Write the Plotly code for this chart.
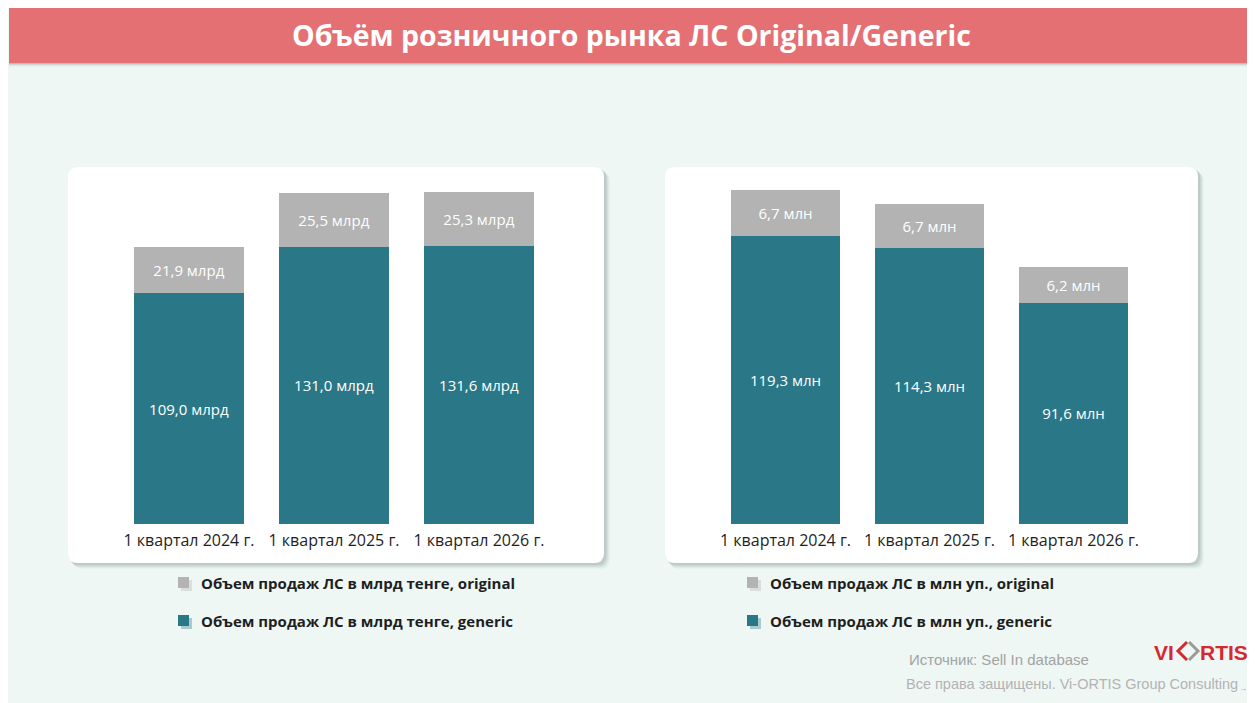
import plotly.graph_objects as go

# the page puts the figure 8px in from the top-left corner, so the figure is
# drawn 8px smaller and every position below is given in window pixels
OFF = 8
W, H = 1255 - OFF, 703 - OFF

quarters = ["1 квартал 2024 г.", "1 квартал 2025 г.", "1 квартал 2026 г."]

# left chart: sales in bn tenge
tenge_generic = [109.0, 131.0, 131.6]
tenge_original = [21.9, 25.5, 25.3]

# right chart: sales in mln packs
units_generic = [119.3, 114.3, 91.6]
units_original = [6.7, 6.7, 6.2]
# the source draws the grey segments taller than their labels say; these are the drawn heights
units_original_drawn = [19.0, 18.2, 14.8]

TEAL = "#2A7887"
GREY = "#B3B3B3"
BG = "#EEF7F4"
RED_BANNER = "#E57074"
LOGO_RED = "#D7282F"
FONT = "Open Sans"


def fx(v):
    return (v - OFF) / W


def fy(v):
    return 1 - (v - OFF) / H


def rounded(x0, y0, x1, y1, r):
    return (f"M{fx(x0 + r)},{fy(y0)} L{fx(x1 - r)},{fy(y0)} Q{fx(x1)},{fy(y0)} {fx(x1)},{fy(y0 + r)} "
            f"L{fx(x1)},{fy(y1 - r)} Q{fx(x1)},{fy(y1)} {fx(x1 - r)},{fy(y1)} L{fx(x0 + r)},{fy(y1)} "
            f"Q{fx(x0)},{fy(y1)} {fx(x0)},{fy(y1 - r)} L{fx(x0)},{fy(y0 + r)} Q{fx(x0)},{fy(y0)} {fx(x0 + r)},{fy(y0)} Z")


def lab(vals, unit):
    return [f"{v:.1f}".replace(".", ",") + " " + unit for v in vals]


fig = go.Figure()

bar_font = dict(color="white", size=15, family=FONT)
common = dict(textposition="inside", insidetextanchor="middle", textangle=0,
              textfont=bar_font, showlegend=False, marker_line_width=0, hoverinfo="skip")

fig.add_trace(go.Bar(x=quarters, y=tenge_generic, marker_color=TEAL,
                     text=lab(tenge_generic, "млрд"), xaxis="x", yaxis="y", **common))
fig.add_trace(go.Bar(x=quarters, y=tenge_original, marker_color=GREY,
                     text=lab(tenge_original, "млрд"), xaxis="x", yaxis="y", **common))
fig.add_trace(go.Bar(x=quarters, y=units_generic, marker_color=TEAL,
                     text=lab(units_generic, "млн"), xaxis="x2", yaxis="y2", **common))
fig.add_trace(go.Bar(x=quarters, y=units_original_drawn, marker_color=GREY,
                     text=lab(units_original, "млн"), xaxis="x2", yaxis="y2", **common))

shapes = []
# banner shadow + banner
for i, a in enumerate([0.10, 0.07, 0.04, 0.02]):
    shapes.append(dict(type="rect", xref="paper", yref="paper", x0=fx(9), x1=fx(1255),
                       y0=fy(63 + i + 1), y1=fy(62), fillcolor=f"rgba(0,0,0,{a})", line_width=0, layer="below"))
shapes.append(dict(type="rect", xref="paper", yref="paper", x0=fx(9), x1=fx(1255), y0=fy(63), y1=fy(2),
                   fillcolor=RED_BANNER, line_width=0, layer="below"))

# white cards with soft shadow
for x0, x1 in [(68, 604), (665, 1198)]:
    for d, a in [(6, 0.03), (5, 0.04), (4, 0.05), (3, 0.06), (2, 0.07)]:
        shapes.append(dict(type="path", xref="paper", yref="paper", path=rounded(x0 + d - 1, 167 + d - 1, x1 + d, 563 + d, 10),
                           fillcolor=f"rgba(40,60,60,{a})", line_width=0, layer="below"))
    shapes.append(dict(type="path", xref="paper", yref="paper", path=rounded(x0, 167, x1, 563, 10),
                       fillcolor="white", line_width=0, layer="below"))

annotations = []
legend_rows = [
    (184, 583, GREY, "Объем продаж ЛС в млрд тенге, original"),
    (184, 621, TEAL, "Объем продаж ЛС в млрд тенге, generic"),
    (753, 583, GREY, "Объем продаж ЛС в млн уп., original"),
    (753, 621, TEAL, "Объем продаж ЛС в млн уп., generic"),
]
for cx, cy, col, txt in legend_rows:
    shapes.append(dict(type="rect", xref="paper", yref="paper", x0=fx(cx - 3), x1=fx(cx + 8),
                       y0=fy(cy + 8), y1=fy(cy - 3), fillcolor=col, opacity=0.35, line_width=0))
    shapes.append(dict(type="rect", xref="paper", yref="paper", x0=fx(cx - 6), x1=fx(cx + 5),
                       y0=fy(cy + 5), y1=fy(cy - 6), fillcolor=col, line_width=0))
    annotations.append(dict(text=f"<b>{txt}</b>", x=fx(cx + 15), y=fy(cy), xref="paper", yref="paper",
                            xanchor="left", yanchor="middle", showarrow=False,
                            font=dict(size=15, color="#1E1E1E", family=FONT)))

annotations.append(dict(text="<b>Объём розничного рынка ЛС Original/Generic</b>", x=fx(631), y=fy(35),
                        xref="paper", yref="paper", xanchor="center", yanchor="middle", showarrow=False,
                        font=dict(size=28.5, color="white", family=FONT)))
annotations.append(dict(text="Источник: Sell In database", x=fx(907), y=fy(659), xref="paper", yref="paper",
                        xanchor="left", yanchor="middle", showarrow=False,
                        font=dict(size=15, color="#A3A3A3", family="Liberation Sans")))
annotations.append(dict(text="Все права защищены. Vi-ORTIS Group Consulting", x=fx(904), y=fy(684),
                        xref="paper", yref="paper", xanchor="left", yanchor="middle", showarrow=False,
                        font=dict(size=14.5, color="#B3B3B3", family="Liberation Sans")))
annotations.append(dict(text="→", x=fx(1249), y=fy(695), xref="paper", yref="paper", showarrow=False,
                        font=dict(size=8, color="#999999")))

# logo
annotations.append(dict(text="<b>VI</b>", x=fx(1176), y=fy(652), xref="paper", yref="paper", xanchor="right",
                        yanchor="middle", showarrow=False, font=dict(size=21, color=LOGO_RED, family="Liberation Sans")))
annotations.append(dict(text="<b>RTIS</b>", x=fx(1198), y=fy(652), xref="paper", yref="paper", xanchor="left",
                        yanchor="middle", showarrow=False, font=dict(size=21, color=LOGO_RED, family="Liberation Sans")))
dcx, dcy, dr = 1187, 651, 9
shapes.append(dict(type="path", xref="paper", yref="paper",
                   path=f"M{fx(dcx + 2)},{fy(dcy - dr)} L{fx(dcx + 2 + dr)},{fy(dcy)} L{fx(dcx + 2)},{fy(dcy + dr)}",
                   line=dict(color="#9A9A9A", width=3)))
shapes.append(dict(type="path", xref="paper", yref="paper",
                   path=f"M{fx(dcx)},{fy(dcy - dr)} L{fx(dcx - dr)},{fy(dcy)} L{fx(dcx)},{fy(dcy + dr)}",
                   line=dict(color=LOGO_RED, width=3)))

xcommon = dict(showgrid=False, zeroline=False, showline=False, ticks="", range=[-0.5, 2.5],
               tickfont=dict(size=16, color="#1E1E1E", family=FONT), ticklabelstandoff=5, fixedrange=True)
ycommon = dict(showgrid=False, zeroline=False, showline=False, showticklabels=False, fixedrange=True,
               domain=[fy(524), fy(175)])

fig.update_layout(
    width=W, height=H, margin=dict(l=0, r=0, t=0, b=0),
    paper_bgcolor=BG, plot_bgcolor="rgba(0,0,0,0)",
    barmode="stack", bargap=0.24, showlegend=False,
    xaxis=dict(domain=[fx(116.5), fx(551.5)], anchor="y", **xcommon),
    yaxis=dict(range=[0, 349 / 2.116], anchor="x", **ycommon),
    xaxis2=dict(domain=[fx(713.5), fx(1145.5)], anchor="y2", **xcommon),
    yaxis2=dict(range=[0, 349 / 2.416], anchor="x2", **ycommon),
    shapes=shapes, annotations=annotations,
)

fig.write_html("out.html")
